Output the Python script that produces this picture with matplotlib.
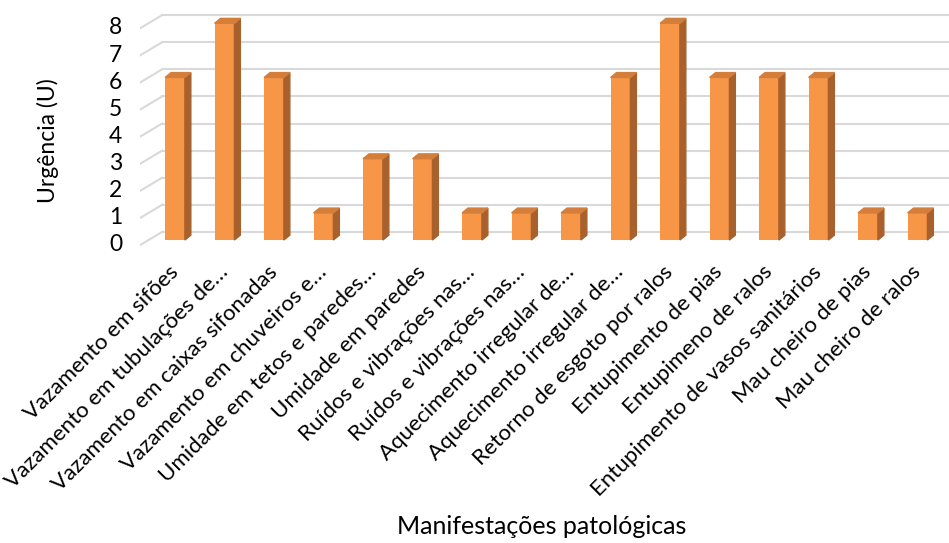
import matplotlib
matplotlib.use("Agg")
import matplotlib.pyplot as plt
from matplotlib.patches import Polygon

plt.rcParams['font.family'] = ['Lato', 'DejaVu Sans']

categorias = [
    "Vazamento em sifões",
    "Vazamento em tubulações de…",
    "Vazamento em caixas sifonadas",
    "Vazamento em chuveiros e…",
    "Umidade em tetos e paredes…",
    "Umidade em paredes",
    "Ruídos e vibrações nas…",
    "Ruídos e vibrações nas…",
    "Aquecimento irregular de…",
    "Aquecimento irregular de…",
    "Retorno de esgoto por ralos",
    "Entupimento de pias",
    "Entupimeno de ralos",
    "Entupimento de vasos sanitários",
    "Mau cheiro de pias",
    "Mau cheiro de ralos",
]
urgencia = [6, 8, 6, 1, 3, 3, 1, 1, 1, 6, 8, 6, 6, 6, 1, 1]
y_ticks = [0, 1, 2, 3, 4, 5, 6, 7, 8]

front_color = '#F79646'
side_color = '#A8612C'
top_color = '#D47E3C'
grid_color = '#D9D9D9'

W, H = 949, 543
fig = plt.figure(figsize=(W / 100, H / 100), dpi=100)
ax = fig.add_axes([0.1479, 0.538, 0.8523, 0.4441])
ax.set_xlim(-0.7, 15.64)
ax.set_ylim(-0.4, 8.5)

# 3D look: back wall offset and bar depth (in data units)
wall_dx, wall_dy = 0.44, 0.3
bw, dx, dy = 0.40, 0.12, 0.18

for t in y_ticks:
    ax.plot([-0.26, 15.64], [t + wall_dy, t + wall_dy], color=grid_color, lw=1.5, zorder=1)
    ax.plot([-0.26 - wall_dx, -0.26], [t - 0.18, t + wall_dy], color=grid_color, lw=1.5, zorder=1)

x = list(range(len(categorias)))
ax.bar(x, urgencia, width=bw, color=front_color, zorder=3)
for i, v in zip(x, urgencia):
    r = i + bw / 2
    l = i - bw / 2
    ax.add_patch(Polygon([(r, 0), (r + dx, dy), (r + dx, v + dy), (r, v)],
                         closed=True, color=side_color, zorder=3))
    ax.add_patch(Polygon([(l, v), (r, v), (r + dx, v + dy), (l + dx, v + dy)],
                         closed=True, color=top_color, zorder=3))

ax.set_yticks([t - 0.1 for t in y_ticks])
ax.set_yticklabels([str(t) for t in y_ticks], fontsize=16.5)
ax.tick_params(axis='y', length=0, pad=13)

ax.set_xticks(x)
ax.set_xticklabels(categorias, fontsize=16, rotation=45, ha='right',
                   va='center', rotation_mode='anchor')
ax.tick_params(axis='x', length=0, pad=13)

for s in ax.spines.values():
    s.set_visible(False)

fig.text(48 / W, 1 - 141 / H, "Urgência (U)", rotation=90, fontsize=16.5,
         ha='center', va='center')
fig.text(542 / W, 1 - 526 / H, "Manifestações patológicas", fontsize=18,
         ha='center', va='center')

fig.savefig("out.png", dpi=100)
